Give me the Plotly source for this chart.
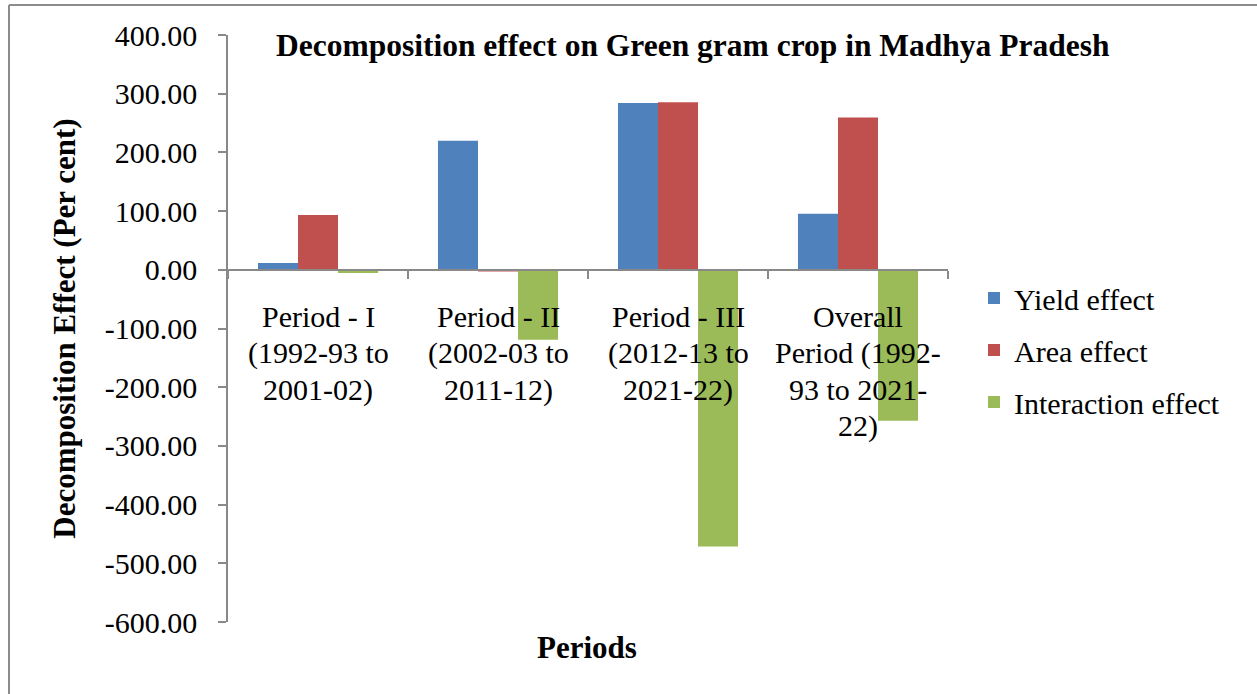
import plotly.graph_objects as go

categories = ["P1", "P2", "P3", "P4"]
category_lines = [
    ["Period - I", "(1992-93 to", "2001-02)"],
    ["Period - II", "(2002-03 to", "2011-12)"],
    ["Period - III", "(2012-13 to", "2021-22)"],
    ["Overall", "Period (1992-", "93 to 2021-", "22)"],
]
yield_effect = [11.5, 220.0, 284.0, 95.5]
area_effect = [93.5, -3.0, 285.5, 259.5]
interaction_effect = [-5.5, -119.0, -471.5, -257.0]
y_ticks = [400, 300, 200, 100, 0, -100, -200, -300, -400, -500, -600]

FONT = "Liberation Serif"
AX = "#898989"

fig = go.Figure()
for name, vals, col in [
    ("Yield effect", yield_effect, "#4F81BD"),
    ("Area effect", area_effect, "#C0504D"),
    ("Interaction effect", interaction_effect, "#9BBB59"),
]:
    fig.add_trace(go.Bar(x=categories, y=vals, name=name, marker_color=col,
                         marker_line_width=0, legendgroup=name))

L, R, T, B = 228, 948, 35, 622
W, H = 1257, 694
ylo, yhi = -600, 400
zero_frac = (0 - ylo) / (yhi - ylo)
zero_px = B - zero_frac * (B - T)

def px(xp):
    return (xp - L) / (R - L)
def py(yp):
    return (B - yp) / (B - T)

fig.update_layout(
    width=W, height=H,
    margin=dict(l=L, r=W - R, t=T, b=H - B),
    paper_bgcolor="white", plot_bgcolor="white",
    barmode="group", bargap=0.333, bargroupgap=0,
    font=dict(family=FONT, color="black"),
    showlegend=True,
    legend=dict(x=px(974), xanchor="left", y=py(272), yanchor="top",
                font=dict(family=FONT, size=30), itemwidth=30,
                tracegroupgap=10, bgcolor="rgba(0,0,0,0)"),
    xaxis=dict(type="category", anchor="free", position=zero_frac,
               showline=True, linecolor=AX, linewidth=1.5,
               ticks="outside", tickson="boundaries", ticklen=8, tickcolor=AX,
               tickwidth=1.5, showticklabels=False, showgrid=False,
               zeroline=False, range=[-0.5, 3.5]),
    yaxis=dict(range=[ylo, yhi], tickvals=y_ticks,
               ticktext=[f"{v:.2f}" for v in y_ticks],
               showline=True, linecolor=AX, linewidth=1.5,
               ticks="outside", ticklen=8, tickcolor=AX, tickwidth=1.5,
               ticklabelstandoff=15,
               showgrid=False, zeroline=False,
               tickfont=dict(family=FONT, size=30),
               title=dict(text="<b>Decomposition Effect (Per cent)</b>",
                          font=dict(family=FONT, size=31), standoff=20)),
)

FS = 30
baselines = [326.7, 363.2, 399.7, 436.2]
for c, lines in zip(categories, category_lines):
    for i, line in enumerate(lines):
        mid = baselines[i] - 0.335 * FS
        fig.add_annotation(x=c, y=0, xref="x", yref="y", text=line, showarrow=False,
                           yanchor="middle", yshift=-(mid - zero_px), align="center",
                           font=dict(family=FONT, size=FS, color="black"))

fig.add_annotation(x=px(693), y=py(45), xref="paper", yref="paper",
                   text="<b>Decomposition effect on Green gram crop in Madhya Pradesh</b>",
                   showarrow=False, font=dict(family=FONT, size=31.5), xanchor="center",
                   yanchor="middle")
fig.add_annotation(x=px(587), y=py(647), xref="paper", yref="paper",
                   text="<b>Periods</b>", showarrow=False,
                   font=dict(family=FONT, size=31), xanchor="center", yanchor="middle")

# frame border of the original figure (top and left edges)
fig.add_shape(type="line", xref="paper", yref="paper", x0=px(9), x1=px(1300),
              y0=py(5), y1=py(5), line=dict(color="#8c8c8c", width=2))
fig.add_shape(type="line", xref="paper", yref="paper", x0=px(9), x1=px(9),
              y0=py(5), y1=py(720), line=dict(color="#8c8c8c", width=2))

fig.write_html("out.html", config={"displayModeBar": False},
               post_script="document.body.style.margin='0px';")
